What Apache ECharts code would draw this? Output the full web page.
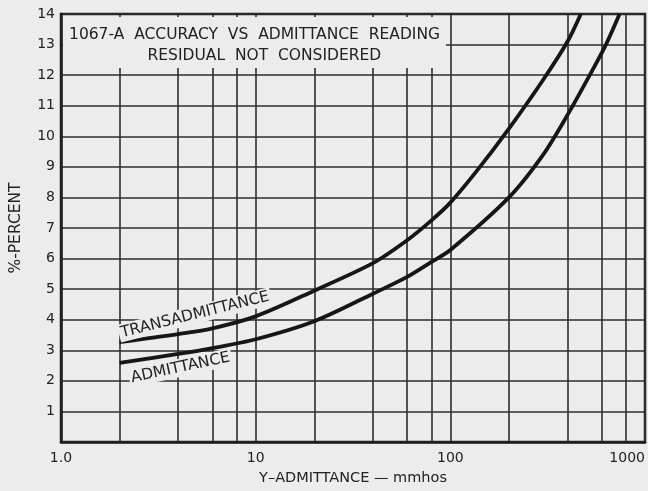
<!DOCTYPE html>
<html>
<head>
<meta charset="utf-8">
<script src="https://cdn.jsdelivr.net/npm/echarts@6/dist/echarts.min.js"></script>
<style>
html,body{margin:0;padding:0;background:#ececec;}
#c{width:648px;height:491px;}
</style>
</head>
<body>
<div id="c"></div>
<script>
// ---- data ----
const xMajorTicks = [1, 10, 100, 1000];
const xMinorGrid = [2, 4, 6, 8, 20, 40, 60, 80, 200, 400, 600, 800];
const yTicks = [1,2,3,4,5,6,7,8,9,10,11,12,13,14];

const transX = [2, 4, 6, 10, 20, 40, 60, 80, 100, 140, 200, 300, 400, 468];
const transY = [3.27, 3.53, 3.72, 4.11, 4.95, 5.85, 6.6, 7.25, 7.83, 8.95, 10.25, 11.85, 13.1, 14.0];

const admX = [2, 4, 6, 10, 20, 40, 60, 80, 100, 200, 300, 400, 520, 630, 740];
const admY = [2.59, 2.88, 3.07, 3.36, 3.95, 4.85, 5.4, 5.89, 6.28, 8.0, 9.4, 10.7, 12.0, 13.0, 14.0];

const titleLines = ['1067-A  ACCURACY  VS  ADMITTANCE  READING', '    RESIDUAL  NOT  CONSIDERED'];
const transLabel = 'TRANSADMITTANCE';
const admLabel = 'ADMITTANCE';
const xName = 'Y–ADMITTANCE — mmhos';
const yName = '%-PERCENT';

// ---- chart ----
const FONT = 'DejaVu Sans';
const INK = '#222';
const GRID = '#2e2e2e';
const BG = '#ececec';

const chart = echarts.init(document.getElementById('c'), null, {renderer: 'canvas'});
const zip = (xs, ys) => xs.map((x, i) => [x, ys[i]]);

chart.setOption({
  backgroundColor: BG,
  animation: false,
  grid: {left: 59, right: 2, top: 14, bottom: 44, show: true, borderColor: '#1e1e1e', borderWidth: 2.5, backgroundColor: 'transparent'},
  xAxis: {
    type: 'log', logBase: 10, min: 1, max: 1000,
    name: xName, nameLocation: 'middle', nameGap: 29,
    nameTextStyle: {fontFamily: FONT, fontSize: 14.5, color: INK},
    axisLine: {show: true, lineStyle: {color: '#1e1e1e', width: 2.5}},
    axisTick: {show: false},
    axisLabel: {fontFamily: FONT, fontSize: 14, color: INK, margin: 9, alignMaxLabel: 'right',
      formatter: v => (v === 1 ? '1.0' : String(Math.round(v)))},
    splitLine: {show: true, lineStyle: {color: GRID, width: 1.6}},
    minorSplitLine: {show: false}
  },
  yAxis: {
    type: 'value', min: 0, max: 14, interval: 1,
    name: yName, nameLocation: 'middle', nameGap: 37, nameRotate: 90,
    nameTextStyle: {fontFamily: FONT, fontSize: 15.5, color: INK},
    axisLine: {show: true, lineStyle: {color: '#1e1e1e', width: 2.5}},
    axisTick: {show: false},
    axisLabel: {fontFamily: FONT, fontSize: 14, color: INK, margin: 6,
      formatter: v => (yTicks.indexOf(v) >= 0 ? String(v) : '')},
    splitLine: {show: true, lineStyle: {color: GRID, width: 1.6}}
  },
  series: [
    {
      type: 'line', data: [], z: 2, silent: true,
      markLine: {
        z: 2, silent: true, symbol: ['none', 'none'], label: {show: false},
        lineStyle: {color: GRID, width: 1.6, type: 'solid'},
        data: xMinorGrid.map(v => ({xAxis: v}))
      }
    },
    {
      type: 'line', data: [], z: 3, silent: true,
      markArea: {
        z: 3, silent: true,
        itemStyle: {color: BG, opacity: 1},
        label: {show: true, position: 'inside', offset: [0, 3],
          fontFamily: FONT, fontSize: 15.5, color: INK, lineHeight: 21,
          formatter: titleLines.join('\n')},
        data: [[{xAxis: 1.025, yAxis: 13.9}, {xAxis: 95, yAxis: 12.23}]]
      }
    },
    {
      name: 'TRANSADMITTANCE', type: 'line', z: 5, smooth: 0.3, showSymbol: false,
      lineStyle: {color: '#161616', width: 3.8},
      data: zip(transX, transY),
      markPoint: {
        z: 6, symbol: 'rect', symbolSize: 1, itemStyle: {color: 'rgba(0,0,0,0)'},
        label: {show: true, position: 'inside', formatter: transLabel, rotate: 14,
          fontFamily: FONT, fontSize: 15.5, color: INK, backgroundColor: BG, padding: [1, 2]},
        data: [{coord: [4.88, 4.16]}]
      }
    },
    {
      name: 'ADMITTANCE', type: 'line', z: 5, smooth: 0.3, showSymbol: false,
      lineStyle: {color: '#161616', width: 3.8},
      data: zip(admX, admY),
      markPoint: {
        z: 6, symbol: 'rect', symbolSize: 1, itemStyle: {color: 'rgba(0,0,0,0)'},
        label: {show: true, position: 'inside', formatter: admLabel, rotate: 12,
          fontFamily: FONT, fontSize: 15.5, color: INK, backgroundColor: BG, padding: [1, 2]},
        data: [{coord: [4.11, 2.43]}]
      }
    }
  ]
});
</script>
</body>
</html>
